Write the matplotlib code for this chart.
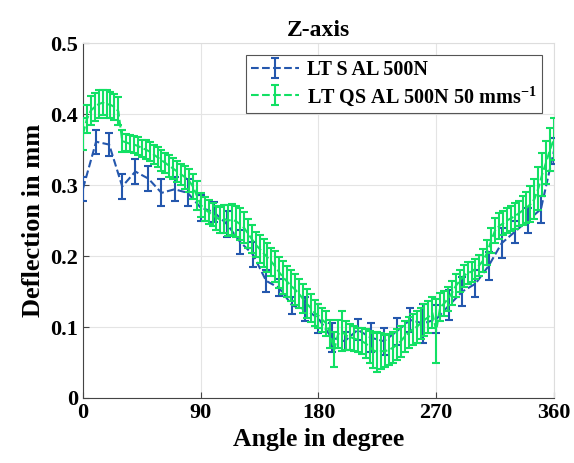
import numpy as np
import matplotlib
matplotlib.use("Agg")
import matplotlib.pyplot as plt

plt.rcParams['font.family'] = 'Liberation Serif'
plt.rcParams['font.weight'] = 'bold'
plt.rcParams['mathtext.fontset'] = 'custom'
plt.rcParams['mathtext.rm'] = 'Liberation Serif:bold'
plt.rcParams['mathtext.default'] = 'rm'

# LT S AL 500N (every 10 degrees)
angle_s = np.arange(0, 361, 10)
defl_s = [0.295, 0.361, 0.357, 0.298, 0.319, 0.309, 0.289, 0.294, 0.289, 0.268,
          0.262, 0.245, 0.220, 0.202, 0.165, 0.155, 0.130, 0.125, 0.112, 0.085,
          0.080, 0.096, 0.085, 0.080, 0.094, 0.110, 0.105, 0.111, 0.131, 0.150,
          0.161, 0.186, 0.218, 0.234, 0.250, 0.266, 0.348]
err_s = [0.017, 0.017, 0.016, 0.017, 0.017, 0.018, 0.019, 0.017, 0.019, 0.018,
         0.014, 0.018, 0.017, 0.018, 0.015, 0.012, 0.012, 0.017, 0.020, 0.020,
         0.013, 0.015, 0.020, 0.019, 0.019, 0.017, 0.027, 0.020, 0.021, 0.020,
         0.019, 0.020, 0.021, 0.016, 0.018, 0.019, 0.018]

# LT QS AL 500N 50 mms-1 (every 3 degrees)
angle_qs = np.arange(0, 361, 3)
defl_qs = [0.372, 0.393, 0.405, 0.410, 0.414, 0.416, 0.414, 0.413, 0.410, 0.404,
           0.362, 0.360, 0.358, 0.357, 0.355, 0.352, 0.350, 0.347, 0.343, 0.339,
           0.335, 0.331, 0.327, 0.323, 0.319, 0.315, 0.311, 0.306, 0.298, 0.285,
           0.272, 0.266, 0.262, 0.258, 0.254, 0.251, 0.252, 0.250, 0.251, 0.249,
           0.245, 0.240, 0.232, 0.224, 0.216, 0.210, 0.204, 0.198, 0.192, 0.185,
           0.177, 0.170, 0.164, 0.158, 0.153, 0.147, 0.140, 0.133, 0.127, 0.120,
           0.116, 0.110, 0.105, 0.090, 0.068, 0.090, 0.094, 0.088, 0.086, 0.084,
           0.082, 0.080, 0.077, 0.072, 0.067, 0.065, 0.066, 0.066, 0.068, 0.071,
           0.075, 0.080, 0.087, 0.092, 0.097, 0.100, 0.105, 0.110, 0.114, 0.120,
           0.095, 0.128, 0.133, 0.140, 0.148, 0.158, 0.165, 0.172, 0.176, 0.178,
           0.182, 0.187, 0.194, 0.205, 0.222, 0.236, 0.242, 0.246, 0.250, 0.253,
           0.256, 0.260, 0.264, 0.268, 0.273, 0.280, 0.295, 0.315, 0.332, 0.350,
           0.365]
err_qs = [0.022, 0.020, 0.020, 0.020, 0.020, 0.018, 0.020, 0.018, 0.018, 0.020,
          0.015, 0.012, 0.012, 0.012, 0.013, 0.012, 0.013, 0.013, 0.014, 0.014,
          0.015, 0.014, 0.015, 0.015, 0.015, 0.015, 0.016, 0.016, 0.017, 0.020,
          0.017, 0.017, 0.017, 0.016, 0.017, 0.018, 0.020, 0.022, 0.022, 0.022,
          0.023, 0.022, 0.020, 0.020, 0.018, 0.020, 0.020, 0.020, 0.020, 0.022,
          0.022, 0.023, 0.022, 0.022, 0.022, 0.020, 0.020, 0.020, 0.020, 0.018,
          0.017, 0.017, 0.017, 0.020, 0.025, 0.020, 0.028, 0.020, 0.018, 0.018,
          0.017, 0.018, 0.020, 0.022, 0.025, 0.028, 0.025, 0.023, 0.022, 0.022,
          0.022, 0.022, 0.022, 0.022, 0.022, 0.022, 0.022, 0.022, 0.022, 0.022,
          0.045, 0.020, 0.018, 0.017, 0.017, 0.016, 0.016, 0.015, 0.015, 0.014,
          0.014, 0.015, 0.016, 0.018, 0.018, 0.018, 0.018, 0.017, 0.018, 0.018,
          0.018, 0.018, 0.020, 0.022, 0.025, 0.028, 0.030, 0.030, 0.030, 0.030,
          0.030]

xticks = [0, 90, 180, 270, 360]
yticks = [0, 0.1, 0.2, 0.3, 0.4, 0.5]
ytick_labels = ['0', '0.1', '0.2', '0.3', '0.4', '0.5']

blue = '#2457ad'
green = '#12e064'

fig = plt.figure(figsize=(5.74, 4.63), dpi=100)
ax = fig.add_axes([0.1446, 0.1404, 0.8205, 0.7666])

ax.errorbar(angle_s, defl_s, yerr=err_s, color=blue, ls='--', lw=1.5,
            capsize=3, capthick=1.5, elinewidth=1.5, label='LT S AL 500N', zorder=3)
ax.errorbar(angle_qs, defl_qs, yerr=err_qs, color=green, ls='--', lw=1.5,
            capsize=3, capthick=1.5, elinewidth=1.5,
            label='LT QS AL 500N 50 mms$^{-1}$', zorder=4)

ax.set_xlim(0, 360)
ax.set_ylim(0, 0.5)
ax.set_xticks(xticks)
ax.set_yticks(yticks)
ax.set_yticklabels(ytick_labels)
ax.tick_params(direction='in', labelsize=16, length=4, color='#444444')
ax.grid(True, color='#e4e4e4', lw=0.8)
ax.set_axisbelow(True)
for s in ['top', 'right']:
    ax.spines[s].set_color('#dddddd')
for s in ['bottom', 'left']:
    ax.spines[s].set_color('#444444')

ax.set_xlabel('Angle in degree', fontsize=18.5, fontweight='bold', labelpad=4)
ax.set_ylabel('Deflection in mm', fontsize=19, fontweight='bold', labelpad=4)
ax.set_title('Z-axis', fontsize=17, fontweight='bold', pad=5)

leg = ax.legend(loc='upper right', fontsize=14.5, fancybox=False, framealpha=1,
                edgecolor='#555555', borderpad=0.25, handlelength=2.4,
                labelspacing=0.2, borderaxespad=0.6, handletextpad=0.4)
leg.get_frame().set_linewidth(0.8)

fig.savefig('out.png', dpi=100)
